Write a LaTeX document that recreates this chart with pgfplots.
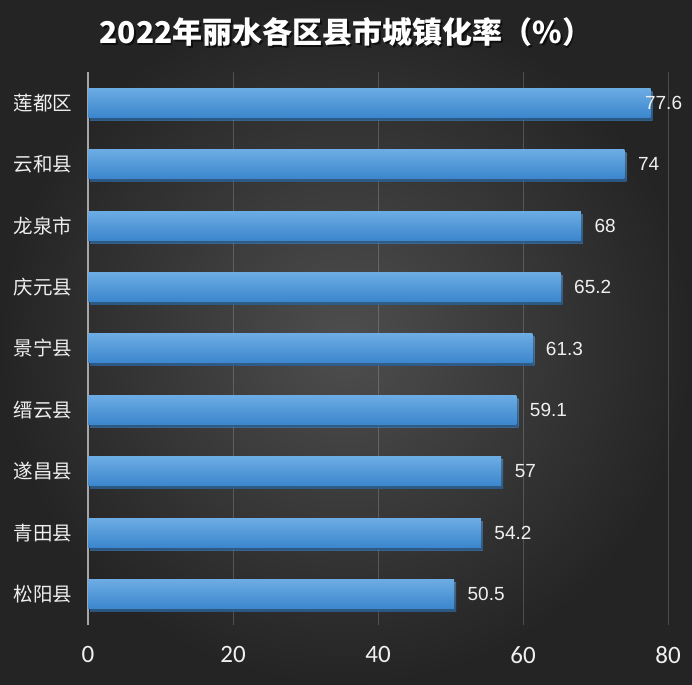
\documentclass[border=0pt]{standalone}
\usepackage{fontspec}
\setmainfont{Noto Sans CJK SC}
\newfontfamily\numfont{Carlito}
\newfontfamily\valfont{Liberation Sans}
\usepackage{pgfplots}
\pgfplotsset{compat=1.18}
\definecolor{barTop}{HTML}{6CACE4}
\definecolor{barBot}{HTML}{3B86CD}
\definecolor{bgIn}{HTML}{4E4E4E}
\definecolor{bgOut}{HTML}{242424}
\definecolor{lbl}{HTML}{EFEFEF}

\begin{document}
\begin{tikzpicture}
\useasboundingbox (0bp,0bp) rectangle (692bp,685bp);
\shade[inner color=bgIn, outer color=bgOut] (0bp,0bp) rectangle (692bp,685bp);
\node[text=black, opacity=0.6, font=\bfseries\fontsize{30bp}{33bp}\selectfont] at (347.5bp,651bp) {2022年丽水各区县市城镇化率（\%）};
\node[text=white, font=\bfseries\fontsize{30bp}{33bp}\selectfont] at (346bp,653bp) {2022年丽水各区县市城镇化率（\%）};
\begin{axis}[
  at={(88bp,60bp)}, anchor=south west,
  scale only axis, width=580bp, height=553bp,
  xmin=0, xmax=80, ymin=-0.5, ymax=8.5,
  xtick={0,20,40,60,80},
  ytick={0,1,2,3,4,5,6,7,8},
  yticklabels={松阳县,青田县,遂昌县,缙云县,景宁县,庆元县,龙泉市,云和县,莲都区},
  axis lines*=left,
  x axis line style={draw=none},
  y axis line style={draw=white!65!black, line width=1.5bp},
  tick style={draw=none},
  xmajorgrids,
  major grid style={draw=white, opacity=0.18, line width=0.8bp},
  xticklabel style={font=\numfont\fontsize{25bp}{28bp}\selectfont, text=lbl, yshift=-18bp},
  yticklabel style={font=\fontsize{19.5bp}{22bp}\selectfont, text=lbl, xshift=-8bp},
  /pgf/number format/assume math mode=true,
  xbar, bar width=29bp, bar shift=0pt,
  clip=false,
  every axis plot/.append style={draw=none, top color=barTop, bottom color=barBot,
    preaction={fill=black, opacity=0.6, transform canvas={xshift=2bp, yshift=-3bp}},
    nodes near coords,
    nodes near coords style={text=lbl, font=\valfont\fontsize{19bp}{22bp}\selectfont, xshift=10bp}},
]
\addplot coordinates {(50.5,0)};
\addplot coordinates {(54.2,1)};
\addplot coordinates {(57,2)};
\addplot coordinates {(59.1,3)};
\addplot coordinates {(61.3,4)};
\addplot coordinates {(65.2,5)};
\addplot coordinates {(68,6)};
\addplot coordinates {(74,7)};
\addplot[nodes near coords style={xshift=-19bp}] coordinates {(77.6,8)};
\end{axis}
\end{tikzpicture}
\end{document}
